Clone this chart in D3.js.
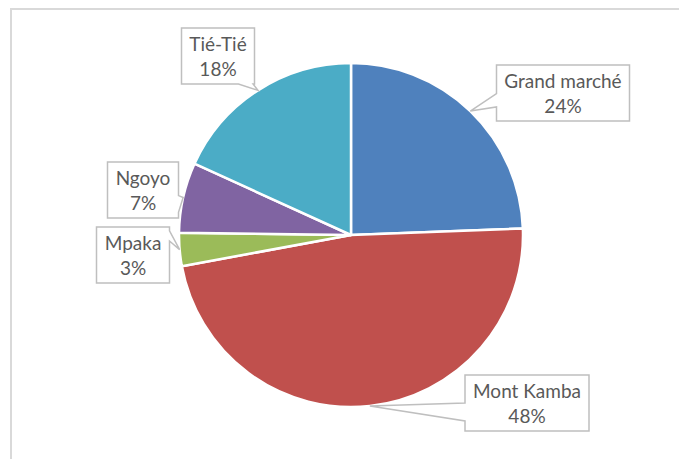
<!DOCTYPE html>
<html>
<head>
<meta charset="utf-8">
<script src="https://cdn.jsdelivr.net/npm/d3@7"></script>
<style>
  html, body { margin: 0; padding: 0; background: #fff; }
  svg { display: block; }
</style>
</head>
<body>
<svg id="chart"></svg>
<script>
// data (shares, labels show rounded %)
const names = ["Grand marché", "Mont Kamba", "Mpaka", "Ngoyo", "Tié-Tié"];
const values = [24.4, 47.7, 3.1, 6.6, 18.2];
const colors = ["#4F81BD", "#C0504D", "#9BBB59", "#8064A2", "#4BACC6"];

// label callout layout: box centre offset from pie centre, edge carrying the wedge, wedge span on that edge
const labelLayout = [
  { dx: 212, dy: -142, side: "left", b0: 0.51, b1: 0.75 },
  { dx: 176, dy: 168, side: "left", b0: 0.50, b1: 0.82 },
  { dx: -218, dy: 20, side: "right", b0: 0.07, b1: 0.25 },
  { dx: -208, dy: -45, side: "right", b0: 0.60, b1: 0.90 },
  { dx: -133, dy: -179, side: "bottom", b0: 0.78, b1: 0.98 }
];

const width = 679, height = 459;
const cx = 351, cy = 235, radius = 172;

const svg = d3.select("#chart")
  .attr("width", width)
  .attr("height", height);

// chart area frame (cut off at right and bottom like the screenshot)
svg.append("rect")
  .attr("x", 11).attr("y", 9)
  .attr("width", 700).attr("height", 500)
  .attr("fill", "none")
  .attr("stroke", "#d9d9d9")
  .attr("stroke-width", 2);

const color = d3.scaleOrdinal(names, colors);
const idx = d3.range(names.length);
const total = d3.sum(values);

const arcs = d3.pie().sort(null).value(i => values[i])(idx);
const arc = d3.arc().innerRadius(0).outerRadius(radius);
const edgeArc = d3.arc().innerRadius(radius).outerRadius(radius);

const g = svg.append("g").attr("transform", `translate(${cx},${cy})`);

g.append("g")
  .attr("stroke", "white")
  .attr("stroke-width", 2.5)
  .attr("stroke-linejoin", "round")
  .selectAll("path")
  .data(arcs)
  .join("path")
    .attr("fill", d => color(names[d.data]))
    .attr("d", arc);

// callout labels
function calloutPath(x0, y0, w, h, side, b0, b1, tip) {
  const x1 = x0 + w, y1 = y0 + h;
  const pts = [];
  pts.push([x0, y0]);
  if (side === "top") { pts.push([x0 + w * b0, y0], tip, [x0 + w * b1, y0]); }
  pts.push([x1, y0]);
  if (side === "right") { pts.push([x1, y0 + h * b0], tip, [x1, y0 + h * b1]); }
  pts.push([x1, y1]);
  if (side === "bottom") { pts.push([x0 + w * b1, y1], tip, [x0 + w * b0, y1]); }
  pts.push([x0, y1]);
  if (side === "left") { pts.push([x0, y0 + h * b1], tip, [x0, y0 + h * b0]); }
  return "M" + pts.map(p => p.join(",")).join("L") + "Z";
}

const labels = g.append("g")
  .attr("font-family", "Lato, 'Open Sans', sans-serif")
  .attr("font-size", 19)
  .attr("fill", "#595959")
  .attr("text-anchor", "middle");

arcs.forEach(d => {
  const i = d.data;
  const lay = labelLayout[i];
  const grp = labels.append("g");
  const path = grp.append("path")
    .attr("fill", "white")
    .attr("stroke", "#bfbfbf")
    .attr("stroke-width", 1.5);
  const t1 = grp.append("text")
    .attr("x", lay.dx).attr("y", lay.dy - 5)
    .text(names[i]);
  grp.append("text")
    .attr("x", lay.dx).attr("y", lay.dy + 20)
    .text(`${Math.round(values[i] / total * 100)}%`);
  const tw = Math.max(t1.node().getComputedTextLength(), 50);
  const w = Math.round(tw + 16), h = 56;
  const x0 = lay.dx - w / 2, y0 = lay.dy - h / 2;
  const tip = edgeArc.centroid(d);
  path.attr("d", calloutPath(x0, y0, w, h, lay.side, lay.b0, lay.b1, tip));
});
</script>
</body>
</html>
